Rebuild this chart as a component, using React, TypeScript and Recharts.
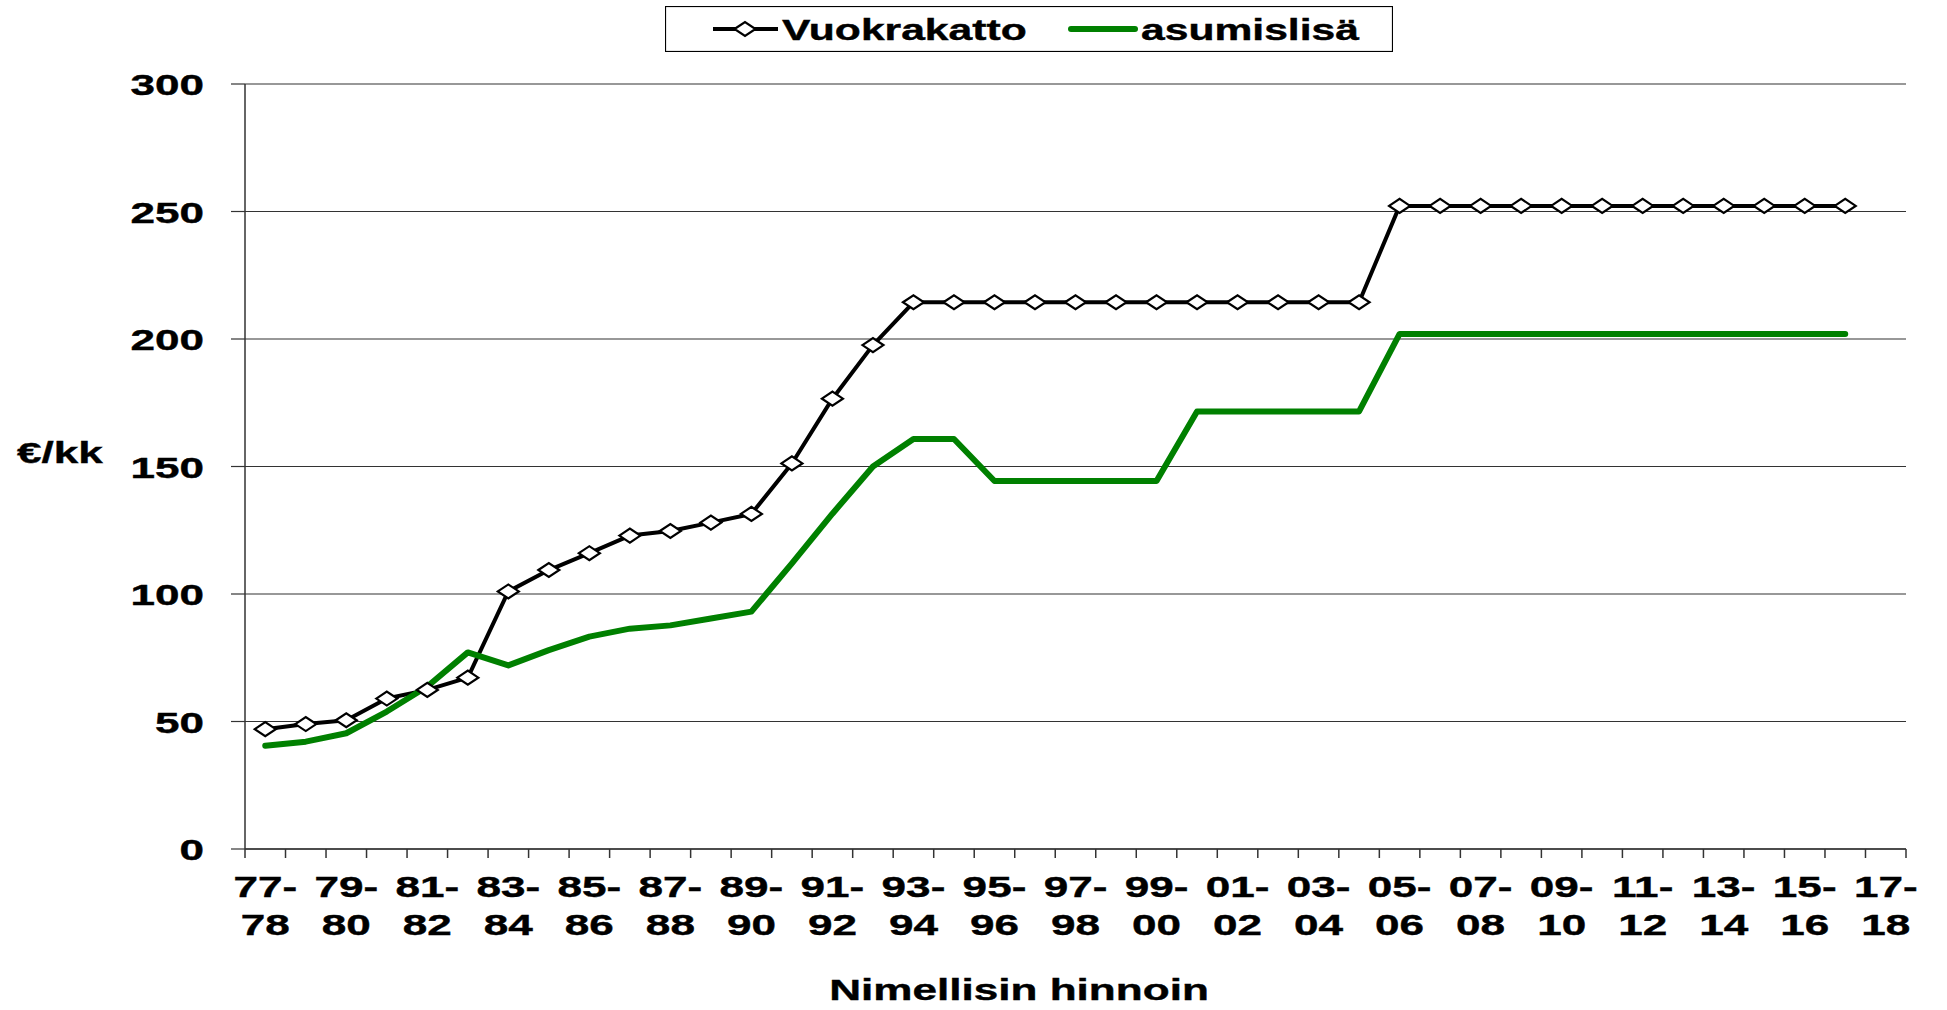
import React from 'react';
import { LineChart, Line, XAxis, YAxis, CartesianGrid, Legend } from 'recharts';

const categories = [
  '77-78', '78-79', '79-80', '80-81', '81-82', '82-83', '83-84', '84-85', '85-86', '86-87',
  '87-88', '88-89', '89-90', '90-91', '91-92', '92-93', '93-94', '94-95', '95-96', '96-97',
  '97-98', '98-99', '99-00', '00-01', '01-02', '02-03', '03-04', '04-05', '05-06', '06-07',
  '07-08', '08-09', '09-10', '10-11', '11-12', '12-13', '13-14', '14-15', '15-16', '16-17',
  '17-18',
];

const vuokrakatto = [
  47, 49, 50.5, 59, 62.4, 67.2, 101, 109.4, 116, 122.9,
  124.7, 128, 131.4, 151.2, 176.6, 197.6, 214.4, 214.4, 214.4, 214.4,
  214.4, 214.4, 214.4, 214.4, 214.4, 214.4, 214.4, 214.4, 252.2, 252.2,
  252.2, 252.2, 252.2, 252.2, 252.2, 252.2, 252.2, 252.2, 252.2, 252.2,
  null,
];

const asumislisa = [
  40.5, 42.1, 45.4, 53.9, 63.7, 77.1, 72, 78, 83.3, 86.4,
  87.7, 90.4, 93.1, 112, 131.5, 150, 160.8, 160.8, 144.3, 144.3,
  144.3, 144.3, 144.3, 171.6, 171.6, 171.6, 171.6, 171.6, 202, 202,
  202, 202, 202, 202, 202, 202, 202, 202, 202, 202,
  null,
];

const yTicks = [0, 50, 100, 150, 200, 250, 300];

const data = categories.map((c, i) => ({
  name: c,
  vuokrakatto: vuokrakatto[i],
  asumislisa: asumislisa[i],
}));

const W = 1947;
const H = 1010;
const LEFT = 245;
const RIGHT = 41;
const BAND = (W - LEFT - RIGHT) / categories.length;
const FONT = '"Liberation Sans", Arial, sans-serif';
const SX = 1.47; // the original is stretched horizontally
const AXIS = '#333';

const Stretched = ({ x, y, anchor = 'start', size = 30, children }: any) => (
  <g transform={`translate(${x},${y})`}>
    <text
      transform={`scale(${SX},1)`}
      textAnchor={anchor}
      fontFamily={FONT}
      fontWeight="bold"
      fontSize={size}
      fill="#000"
      stroke="#000"
      strokeWidth={0.4}
    >
      {children}
    </text>
  </g>
);

const Diamond = ({ cx, cy }: { cx: number; cy: number }) => (
  <polygon
    points={`${cx - 10.5},${cy} ${cx},${cy - 7} ${cx + 10.5},${cy} ${cx},${cy + 7}`}
    fill="#fff"
    stroke="#000"
    strokeWidth={2.2}
  />
);

const renderDot = (props: any) => {
  const { cx, cy, index, value } = props;
  if (cy == null || value == null) return <g key={`d${index}`} />;
  return <Diamond key={`d${index}`} cx={cx} cy={cy} />;
};

const YTick = (props: any) => {
  const { x, y, payload } = props;
  return (
    <Stretched x={x} y={y + 11} anchor="end">
      {payload.value}
    </Stretched>
  );
};

const XTick = (props: any) => {
  const { x, y, index, payload } = props;
  const [a, b] = String(payload.value).split('-');
  const left = x - BAND / 2;
  return (
    <g>
      <line x1={left} y1={y} x2={left} y2={y + 9} stroke={AXIS} strokeWidth={1.5} />
      {index === categories.length - 1 && (
        <line x1={x + BAND / 2} y1={y} x2={x + BAND / 2} y2={y + 9} stroke={AXIS} strokeWidth={1.5} />
      )}
      {index % 2 === 0 && (
        <>
          <Stretched x={x} y={y + 48} anchor="middle">{`${a}-`}</Stretched>
          <Stretched x={x} y={y + 86} anchor="middle">{b}</Stretched>
        </>
      )}
    </g>
  );
};

const renderLegend = () => (
  <svg width={728} height={46} style={{ display: 'block' }}>
    <rect x={0.5} y={0.5} width={727} height={45} fill="#fff" stroke="#000" strokeWidth={1.2} />
    <line x1={48} y1={23} x2={113} y2={23} stroke="#000" strokeWidth={4} />
    <Diamond cx={80} cy={23} />
    <Stretched x={117} y={34} size={29}>Vuokrakatto</Stretched>
    <line x1={406} y1={23} x2={470} y2={23} stroke="#008000" strokeWidth={6} strokeLinecap="round" />
    <Stretched x={476} y={34} size={29}>asumislisä</Stretched>
  </svg>
);

export default function App() {
  return (
    <div style={{ position: 'absolute', left: 0, top: 0, width: W, height: H, background: '#fff' }}>
      <LineChart width={W} height={H} data={data} margin={{ top: 84, right: RIGHT, bottom: 0, left: 0 }}>
        <CartesianGrid vertical={false} stroke={AXIS} strokeWidth={1.2} />
        <XAxis
          dataKey="name"
          scale="band"
          interval={0}
          height={161}
          tickLine={false}
          tickSize={0}
          tickMargin={0}
          axisLine={{ stroke: AXIS, strokeWidth: 1.5 }}
          tick={<XTick />}
          label={{
            content: () => (
              <Stretched x={1019} y={1000} anchor="middle">Nimellisin hinnoin</Stretched>
            ),
          }}
        />
        <YAxis
          domain={[0, 300]}
          ticks={yTicks}
          width={LEFT}
          tickSize={14}
          tickMargin={27}
          tickLine={{ stroke: AXIS, strokeWidth: 1.2 }}
          axisLine={{ stroke: AXIS, strokeWidth: 1.5 }}
          tick={<YTick />}
          label={{
            content: () => <Stretched x={17} y={463}>€/kk</Stretched>,
          }}
        />
        <YAxis
          yAxisId="r"
          orientation="right"
          domain={[0, 300]}
          width={0}
          tick={false}
          tickLine={false}
          axisLine={{ stroke: AXIS, strokeWidth: 1.5 }}
        />
        <Legend
          layout="vertical"
          verticalAlign="middle"
          align="center"
          content={renderLegend}
          wrapperStyle={{ position: 'absolute', left: 665, top: 6, width: 728, height: 46 }}
        />
        <Line
          dataKey="vuokrakatto"
          stroke="#000"
          strokeWidth={4}
          strokeLinejoin="round"
          dot={renderDot}
          activeDot={false}
          isAnimationActive={false}
        />
        <Line
          dataKey="asumislisa"
          stroke="#008000"
          strokeWidth={6}
          strokeLinejoin="round"
          strokeLinecap="round"
          dot={false}
          activeDot={false}
          isAnimationActive={false}
        />
      </LineChart>
    </div>
  );
}
